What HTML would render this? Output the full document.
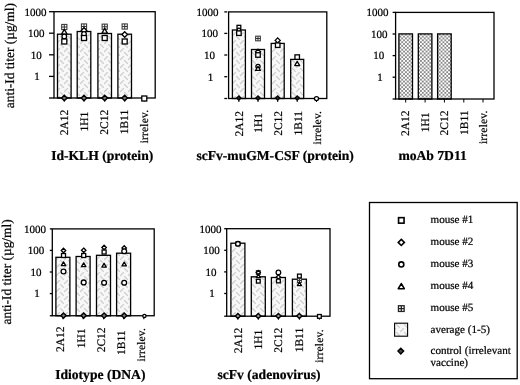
<!DOCTYPE html>
<html><head><meta charset="utf-8"><style>
html,body{margin:0;padding:0;background:#fff;width:520px;height:385px;overflow:hidden;}
svg{display:block;font-family:"Liberation Serif", serif;filter:grayscale(1);text-rendering:geometricPrecision;}
text{stroke:#000;stroke-width:0.22px;}
</style></head><body>
<svg width="520" height="385" viewBox="0 0 520 385" font-family='"Liberation Serif", serif' fill="#000">
<defs>
<pattern id="hatch" patternUnits="userSpaceOnUse" width="8" height="8">
<rect width="8" height="8" fill="#f7f7f7"/>
<path d="M0.5,3.5 L3.5,0.5 M4.5,4.5 L7.5,7.5" stroke="#cfcfcf" stroke-width="1.3" fill="none" stroke-linecap="round"/>
</pattern>
<pattern id="dots" patternUnits="userSpaceOnUse" width="3.75" height="3.75">
<rect width="3.75" height="3.75" fill="#fff"/>
<rect x="0" y="0" width="1.875" height="1.875" fill="#8c8c8c"/>
<rect x="1.875" y="1.875" width="1.875" height="1.875" fill="#8c8c8c"/>
</pattern>
</defs>
<rect width="520" height="385" fill="#fff"/>
<rect x="57.50" y="34.20" width="13.60" height="63.80" fill="url(#hatch)" stroke="#000" stroke-width="1.3"/>
<rect x="77.20" y="31.50" width="13.60" height="66.50" fill="url(#hatch)" stroke="#000" stroke-width="1.3"/>
<rect x="97.90" y="33.50" width="13.60" height="64.50" fill="url(#hatch)" stroke="#000" stroke-width="1.3"/>
<rect x="117.90" y="34.20" width="13.60" height="63.80" fill="url(#hatch)" stroke="#000" stroke-width="1.3"/>
<rect x="54" y="11.7" width="101.19999999999999" height="86.3" fill="none" stroke="#000" stroke-width="1.3"/>
<line x1="49" y1="11.7" x2="54" y2="11.7" stroke="#000" stroke-width="1.3"/>
<line x1="49" y1="33.2" x2="54" y2="33.2" stroke="#000" stroke-width="1.3"/>
<line x1="49" y1="54.8" x2="54" y2="54.8" stroke="#000" stroke-width="1.3"/>
<line x1="49" y1="76.4" x2="54" y2="76.4" stroke="#000" stroke-width="1.3"/>
<line x1="49" y1="98" x2="54" y2="98" stroke="#000" stroke-width="1.3"/>
<line x1="64.3" y1="98" x2="64.3" y2="101.5" stroke="#000" stroke-width="1"/>
<line x1="84" y1="98" x2="84" y2="101.5" stroke="#000" stroke-width="1"/>
<line x1="104.7" y1="98" x2="104.7" y2="101.5" stroke="#000" stroke-width="1"/>
<line x1="124.7" y1="98" x2="124.7" y2="101.5" stroke="#000" stroke-width="1"/>
<line x1="144.3" y1="98" x2="144.3" y2="101.5" stroke="#000" stroke-width="1"/>
<text x="35.45" y="15.50" text-anchor="middle" font-size="11.0">1000</text>
<text x="36.30" y="37.00" text-anchor="middle" font-size="11.0">100</text>
<text x="36.30" y="58.60" text-anchor="middle" font-size="11.0">10</text>
<text x="37.05" y="80.20" text-anchor="middle" font-size="11.0">1</text>
<g stroke="#333" stroke-width="1.04" fill="#fff"><rect x="61.70" y="24.40" width="5.20" height="5.20"/><path d="M61.70,27.00 H66.90 M64.30,24.40 V29.60"/></g>
<path d="M64.30,29.40 L67.03,34.08 L61.57,34.08 Z" fill="#fff" stroke="#000" stroke-width="1.3" stroke-linejoin="round"/>
<circle cx="64.30" cy="36.50" r="2.30" fill="#fff" stroke="#000" stroke-width="1.3"/>
<rect x="61.80" y="39.00" width="5.00" height="5.00" fill="#fff" stroke="#000" stroke-width="1.3"/>
<g stroke="#333" stroke-width="1.04" fill="#fff"><rect x="81.40" y="23.90" width="5.20" height="5.20"/><path d="M81.40,26.50 H86.60 M84.00,23.90 V29.10"/></g>
<path d="M84.00,27.70 L86.80,30.50 L84.00,33.30 L81.20,30.50 Z" fill="#fff" stroke="#000" stroke-width="1.3"/>
<circle cx="84.00" cy="34.00" r="2.30" fill="#fff" stroke="#000" stroke-width="1.3"/>
<rect x="81.50" y="35.50" width="5.00" height="5.00" fill="#fff" stroke="#000" stroke-width="1.3"/>
<g stroke="#333" stroke-width="1.04" fill="#fff"><rect x="102.10" y="24.10" width="5.20" height="5.20"/><path d="M102.10,26.70 H107.30 M104.70,24.10 V29.30"/></g>
<path d="M104.70,28.40 L107.43,33.08 L101.97,33.08 Z" fill="#fff" stroke="#000" stroke-width="1.3" stroke-linejoin="round"/>
<rect x="102.20" y="35.50" width="5.00" height="5.00" fill="#fff" stroke="#000" stroke-width="1.3"/>
<g stroke="#333" stroke-width="1.04" fill="#fff"><rect x="122.10" y="23.90" width="5.20" height="5.20"/><path d="M122.10,26.50 H127.30 M124.70,23.90 V29.10"/></g>
<path d="M124.70,31.70 L127.50,34.50 L124.70,37.30 L121.90,34.50 Z" fill="#fff" stroke="#000" stroke-width="1.3"/>
<rect x="122.20" y="39.00" width="5.00" height="5.00" fill="#fff" stroke="#000" stroke-width="1.3"/>
<path d="M64.30,95.25 L67.05,98.00 L64.30,100.75 L61.54,98.00 Z" fill="#777" stroke="#000" stroke-width="1.4"/>
<path d="M84.00,95.25 L86.75,98.00 L84.00,100.75 L81.25,98.00 Z" fill="#777" stroke="#000" stroke-width="1.4"/>
<path d="M104.70,95.25 L107.45,98.00 L104.70,100.75 L101.95,98.00 Z" fill="#777" stroke="#000" stroke-width="1.4"/>
<path d="M124.70,95.25 L127.45,98.00 L124.70,100.75 L121.95,98.00 Z" fill="#777" stroke="#000" stroke-width="1.4"/>
<rect x="141.80" y="96.00" width="5.00" height="5.00" fill="#fff" stroke="#000" stroke-width="1.3"/>
<text transform="translate(67.80,109.80) rotate(-90)" text-anchor="end" font-size="11.5">2A12</text>
<text transform="translate(87.50,111.80) rotate(-90)" text-anchor="end" font-size="11.5">1H1</text>
<text transform="translate(108.20,109.80) rotate(-90)" text-anchor="end" font-size="11.5">2C12</text>
<text transform="translate(128.20,109.80) rotate(-90)" text-anchor="end" font-size="11.5">1B11</text>
<text transform="translate(147.80,109.80) rotate(-90)" text-anchor="end" font-size="11.5" letter-spacing="0.17">irrelev.</text>
<text x="102.2" y="160.1" text-anchor="middle" font-size="13.6" font-weight="bold">Id-KLH (protein)</text>
<text transform="translate(14.4,55.65) rotate(-90)" text-anchor="middle" font-size="13.4">anti-Id titer (µg/ml)</text>
<rect x="232.40" y="30.00" width="13.00" height="68.50" fill="url(#hatch)" stroke="#000" stroke-width="1.3"/>
<rect x="251.50" y="49.50" width="13.00" height="49.00" fill="url(#hatch)" stroke="#000" stroke-width="1.3"/>
<rect x="271.20" y="43.40" width="13.00" height="55.10" fill="url(#hatch)" stroke="#000" stroke-width="1.3"/>
<rect x="290.70" y="59.40" width="13.00" height="39.10" fill="url(#hatch)" stroke="#000" stroke-width="1.3"/>
<rect x="228.6" y="11.9" width="98.20000000000002" height="86.6" fill="none" stroke="#000" stroke-width="1.3"/>
<line x1="224.29999999999998" y1="11.9" x2="227.2" y2="11.9" stroke="#000" stroke-width="1.3"/>
<line x1="224.29999999999998" y1="33.4" x2="227.2" y2="33.4" stroke="#000" stroke-width="1.3"/>
<line x1="224.29999999999998" y1="55" x2="227.2" y2="55" stroke="#000" stroke-width="1.3"/>
<line x1="224.29999999999998" y1="76.7" x2="227.2" y2="76.7" stroke="#000" stroke-width="1.3"/>
<line x1="224.29999999999998" y1="98.5" x2="227.2" y2="98.5" stroke="#000" stroke-width="1.3"/>
<line x1="238.9" y1="98.5" x2="238.9" y2="102.0" stroke="#000" stroke-width="1"/>
<line x1="258" y1="98.5" x2="258" y2="102.0" stroke="#000" stroke-width="1"/>
<line x1="277.7" y1="98.5" x2="277.7" y2="102.0" stroke="#000" stroke-width="1"/>
<line x1="297.2" y1="98.5" x2="297.2" y2="102.0" stroke="#000" stroke-width="1"/>
<line x1="316.5" y1="98.5" x2="316.5" y2="102.0" stroke="#000" stroke-width="1"/>
<text x="207.50" y="15.70" text-anchor="middle" font-size="11.0">1000</text>
<text x="209.70" y="37.20" text-anchor="middle" font-size="11.0">100</text>
<text x="209.60" y="58.80" text-anchor="middle" font-size="11.0">10</text>
<text x="210.40" y="80.50" text-anchor="middle" font-size="11.0">1</text>
<rect x="237.03" y="25.32" width="3.75" height="3.75" fill="#fff" stroke="#000" stroke-width="1.3"/>
<circle cx="238.90" cy="29.80" r="1.61" fill="#fff" stroke="#000" stroke-width="1.3"/>
<rect x="236.65" y="30.95" width="4.50" height="4.50" fill="#fff" stroke="#000" stroke-width="1.3"/>
<g stroke="#333" stroke-width="1.04" fill="#fff"><rect x="255.66" y="36.16" width="4.68" height="4.68"/><path d="M255.66,38.50 H260.34 M258.00,36.16 V40.84"/></g>
<path d="M258.00,49.28 L260.52,51.80 L258.00,54.32 L255.48,51.80 Z" fill="#fff" stroke="#000" stroke-width="1.3"/>
<rect x="255.75" y="52.75" width="4.50" height="4.50" fill="#fff" stroke="#000" stroke-width="1.3"/>
<circle cx="258.00" cy="66.40" r="2.07" fill="#fff" stroke="#000" stroke-width="1.3"/>
<path d="M258.00,66.26 L260.46,70.47 L255.54,70.47 Z" fill="#fff" stroke="#000" stroke-width="1.3" stroke-linejoin="round"/>
<path d="M277.70,37.88 L280.22,40.40 L277.70,42.92 L275.18,40.40 Z" fill="#fff" stroke="#000" stroke-width="1.3"/>
<rect x="275.45" y="42.95" width="4.50" height="4.50" fill="#fff" stroke="#000" stroke-width="1.3"/>
<rect x="294.95" y="54.85" width="4.50" height="4.50" fill="#fff" stroke="#000" stroke-width="1.3"/>
<path d="M297.20,61.36 L299.66,65.57 L294.74,65.57 Z" fill="#fff" stroke="#000" stroke-width="1.3" stroke-linejoin="round"/>
<path d="M238.90,95.91 L240.99,98.00 L238.90,100.09 L236.81,98.00 Z" fill="#333" stroke="#000" stroke-width="1.4"/>
<path d="M258.00,95.91 L260.09,98.00 L258.00,100.09 L255.91,98.00 Z" fill="#333" stroke="#000" stroke-width="1.4"/>
<path d="M277.70,95.91 L279.79,98.00 L277.70,100.09 L275.61,98.00 Z" fill="#333" stroke="#000" stroke-width="1.4"/>
<path d="M297.20,95.91 L299.29,98.00 L297.20,100.09 L295.11,98.00 Z" fill="#333" stroke="#000" stroke-width="1.4"/>
<circle cx="316.50" cy="98.60" r="2.07" fill="#fff" stroke="#000" stroke-width="1.3"/>
<text transform="translate(243.20,110.90) rotate(-90)" text-anchor="end" font-size="11.5">2A12</text>
<text transform="translate(262.30,112.90) rotate(-90)" text-anchor="end" font-size="11.5">1H1</text>
<text transform="translate(282.00,110.90) rotate(-90)" text-anchor="end" font-size="11.5">2C12</text>
<text transform="translate(301.50,110.90) rotate(-90)" text-anchor="end" font-size="11.5">1B11</text>
<text transform="translate(320.80,110.90) rotate(-90)" text-anchor="end" font-size="11.5" letter-spacing="0.17">irrelev.</text>
<text x="275.1" y="159.8" text-anchor="middle" font-size="13.6" font-weight="bold">scFv-muGM-CSF (protein)</text>
<rect x="398.90" y="33.90" width="13.60" height="65.10" fill="url(#dots)" stroke="#000" stroke-width="1.3"/>
<rect x="418.30" y="33.90" width="13.60" height="65.10" fill="url(#dots)" stroke="#000" stroke-width="1.3"/>
<rect x="437.60" y="33.90" width="13.60" height="65.10" fill="url(#dots)" stroke="#000" stroke-width="1.3"/>
<rect x="395.6" y="12.4" width="98.39999999999998" height="86.6" fill="none" stroke="#000" stroke-width="1.3"/>
<line x1="392.6" y1="12.4" x2="395.6" y2="12.4" stroke="#000" stroke-width="1.3"/>
<line x1="392.6" y1="34.0" x2="395.6" y2="34.0" stroke="#000" stroke-width="1.3"/>
<line x1="392.6" y1="55.6" x2="395.6" y2="55.6" stroke="#000" stroke-width="1.3"/>
<line x1="392.6" y1="77.2" x2="395.6" y2="77.2" stroke="#000" stroke-width="1.3"/>
<line x1="392.6" y1="99.0" x2="395.6" y2="99.0" stroke="#000" stroke-width="1.3"/>
<line x1="405.7" y1="99.0" x2="405.7" y2="102.5" stroke="#000" stroke-width="1"/>
<line x1="425.1" y1="99.0" x2="425.1" y2="102.5" stroke="#000" stroke-width="1"/>
<line x1="444.4" y1="99.0" x2="444.4" y2="102.5" stroke="#000" stroke-width="1"/>
<line x1="463.8" y1="99.0" x2="463.8" y2="102.5" stroke="#000" stroke-width="1"/>
<line x1="483" y1="99.0" x2="483" y2="102.5" stroke="#000" stroke-width="1"/>
<text x="377.50" y="16.20" text-anchor="middle" font-size="11.0">1000</text>
<text x="379.30" y="37.80" text-anchor="middle" font-size="11.0">100</text>
<text x="378.80" y="59.40" text-anchor="middle" font-size="11.0">10</text>
<text x="379.90" y="81.00" text-anchor="middle" font-size="11.0">1</text>
<text transform="translate(409.40,110.50) rotate(-90)" text-anchor="end" font-size="11.5">2A12</text>
<text transform="translate(428.80,112.50) rotate(-90)" text-anchor="end" font-size="11.5">1H1</text>
<text transform="translate(448.10,110.50) rotate(-90)" text-anchor="end" font-size="11.5">2C12</text>
<text transform="translate(467.50,110.50) rotate(-90)" text-anchor="end" font-size="11.5">1B11</text>
<text transform="translate(486.70,110.50) rotate(-90)" text-anchor="end" font-size="11.5" letter-spacing="0.17">irrelev.</text>
<text x="432.6" y="159.6" text-anchor="middle" font-size="13.6" font-weight="bold">moAb 7D11</text>
<rect x="55.90" y="257.30" width="14.00" height="58.45" fill="url(#hatch)" stroke="#000" stroke-width="1.3"/>
<rect x="76.10" y="256.50" width="14.00" height="59.25" fill="url(#hatch)" stroke="#000" stroke-width="1.3"/>
<rect x="96.50" y="255.30" width="14.00" height="60.45" fill="url(#hatch)" stroke="#000" stroke-width="1.3"/>
<rect x="116.60" y="253.20" width="14.00" height="62.55" fill="url(#hatch)" stroke="#000" stroke-width="1.3"/>
<rect x="52.3" y="228.9" width="101.89999999999999" height="86.85" fill="none" stroke="#000" stroke-width="1.3"/>
<line x1="49.8" y1="228.9" x2="52.3" y2="228.9" stroke="#000" stroke-width="1.3"/>
<line x1="49.8" y1="250.4" x2="52.3" y2="250.4" stroke="#000" stroke-width="1.3"/>
<line x1="49.8" y1="272.0" x2="52.3" y2="272.0" stroke="#000" stroke-width="1.3"/>
<line x1="49.8" y1="293.6" x2="52.3" y2="293.6" stroke="#000" stroke-width="1.3"/>
<line x1="49.8" y1="315.75" x2="52.3" y2="315.75" stroke="#000" stroke-width="1.3"/>
<line x1="62.9" y1="315.75" x2="62.9" y2="319.25" stroke="#000" stroke-width="1"/>
<line x1="83.1" y1="315.75" x2="83.1" y2="319.25" stroke="#000" stroke-width="1"/>
<line x1="103.5" y1="315.75" x2="103.5" y2="319.25" stroke="#000" stroke-width="1"/>
<line x1="123.6" y1="315.75" x2="123.6" y2="319.25" stroke="#000" stroke-width="1"/>
<line x1="143.8" y1="315.75" x2="143.8" y2="319.25" stroke="#000" stroke-width="1"/>
<text x="34.90" y="232.70" text-anchor="middle" font-size="11.0">1000</text>
<text x="36.00" y="254.20" text-anchor="middle" font-size="11.0">100</text>
<text x="36.00" y="275.80" text-anchor="middle" font-size="11.0">10</text>
<text x="37.10" y="297.40" text-anchor="middle" font-size="11.0">1</text>
<path d="M63.50,248.26 L65.74,250.50 L63.50,252.74 L61.26,250.50 Z" fill="#fff" stroke="#000" stroke-width="1.3"/>
<rect x="61.50" y="253.50" width="4.00" height="4.00" fill="#fff" stroke="#000" stroke-width="1.3"/>
<path d="M63.50,261.92 L65.68,265.66 L61.32,265.66 Z" fill="#fff" stroke="#000" stroke-width="1.3" stroke-linejoin="round"/>
<circle cx="63.50" cy="271.50" r="2.42" fill="#fff" stroke="#000" stroke-width="1.3"/>
<path d="M83.70,248.06 L85.94,250.30 L83.70,252.54 L81.46,250.30 Z" fill="#fff" stroke="#000" stroke-width="1.3"/>
<rect x="81.70" y="253.50" width="4.00" height="4.00" fill="#fff" stroke="#000" stroke-width="1.3"/>
<path d="M83.70,262.92 L85.88,266.66 L81.52,266.66 Z" fill="#fff" stroke="#000" stroke-width="1.3" stroke-linejoin="round"/>
<circle cx="83.70" cy="282.40" r="2.42" fill="#fff" stroke="#000" stroke-width="1.3"/>
<path d="M104.10,245.26 L106.34,247.50 L104.10,249.74 L101.86,247.50 Z" fill="#fff" stroke="#000" stroke-width="1.3"/>
<rect x="102.10" y="250.00" width="4.00" height="4.00" fill="#fff" stroke="#000" stroke-width="1.3"/>
<path d="M104.10,263.42 L106.28,267.16 L101.92,267.16 Z" fill="#fff" stroke="#000" stroke-width="1.3" stroke-linejoin="round"/>
<circle cx="104.10" cy="282.70" r="2.42" fill="#fff" stroke="#000" stroke-width="1.3"/>
<path d="M124.20,245.76 L126.44,248.00 L124.20,250.24 L121.96,248.00 Z" fill="#fff" stroke="#000" stroke-width="1.3"/>
<circle cx="124.20" cy="251.30" r="2.42" fill="#fff" stroke="#000" stroke-width="1.3"/>
<path d="M124.20,262.12 L126.38,265.86 L122.02,265.86 Z" fill="#fff" stroke="#000" stroke-width="1.3" stroke-linejoin="round"/>
<circle cx="124.20" cy="282.70" r="2.42" fill="#fff" stroke="#000" stroke-width="1.3"/>
<path d="M63.50,312.93 L66.17,315.60 L63.50,318.27 L60.83,315.60 Z" fill="#777" stroke="#000" stroke-width="1.4"/>
<path d="M83.70,312.93 L86.37,315.60 L83.70,318.27 L81.03,315.60 Z" fill="#777" stroke="#000" stroke-width="1.4"/>
<path d="M104.10,312.93 L106.77,315.60 L104.10,318.27 L101.43,315.60 Z" fill="#777" stroke="#000" stroke-width="1.4"/>
<path d="M124.20,312.93 L126.87,315.60 L124.20,318.27 L121.53,315.60 Z" fill="#777" stroke="#000" stroke-width="1.4"/>
<circle cx="144.40" cy="315.90" r="1.61" fill="#fff" stroke="#000" stroke-width="1.3"/>
<text transform="translate(64.40,326.45) rotate(-90)" text-anchor="end" font-size="11.5">2A12</text>
<text transform="translate(84.60,328.45) rotate(-90)" text-anchor="end" font-size="11.5">1H1</text>
<text transform="translate(105.00,327.45) rotate(-90)" text-anchor="end" font-size="11.5">2C12</text>
<text transform="translate(125.10,330.45) rotate(-90)" text-anchor="end" font-size="11.5">1B11</text>
<text transform="translate(145.30,327.95) rotate(-90)" text-anchor="end" font-size="11.5" letter-spacing="0.17">irrelev.</text>
<text x="100.3" y="379.0" text-anchor="middle" font-size="13.6" font-weight="bold">Idiotype (DNA)</text>
<text transform="translate(11.0,271.93) rotate(-90)" text-anchor="middle" font-size="13.4">anti-Id titer (µg/ml)</text>
<rect x="230.90" y="243.20" width="14.00" height="73.00" fill="url(#hatch)" stroke="#000" stroke-width="1.3"/>
<rect x="251.30" y="276.80" width="14.00" height="39.40" fill="url(#hatch)" stroke="#000" stroke-width="1.3"/>
<rect x="271.40" y="277.50" width="14.00" height="38.70" fill="url(#hatch)" stroke="#000" stroke-width="1.3"/>
<rect x="292.40" y="279.20" width="14.00" height="37.00" fill="url(#hatch)" stroke="#000" stroke-width="1.3"/>
<rect x="226.7" y="228.7" width="103.30000000000001" height="87.5" fill="none" stroke="#000" stroke-width="1.3"/>
<line x1="224.2" y1="228.7" x2="226.7" y2="228.7" stroke="#000" stroke-width="1.3"/>
<line x1="224.2" y1="250.3" x2="226.7" y2="250.3" stroke="#000" stroke-width="1.3"/>
<line x1="224.2" y1="271.9" x2="226.7" y2="271.9" stroke="#000" stroke-width="1.3"/>
<line x1="224.2" y1="293.5" x2="226.7" y2="293.5" stroke="#000" stroke-width="1.3"/>
<line x1="224.2" y1="316.2" x2="226.7" y2="316.2" stroke="#000" stroke-width="1.3"/>
<line x1="237.9" y1="316.2" x2="237.9" y2="319.7" stroke="#000" stroke-width="1"/>
<line x1="258.3" y1="316.2" x2="258.3" y2="319.7" stroke="#000" stroke-width="1"/>
<line x1="278.4" y1="316.2" x2="278.4" y2="319.7" stroke="#000" stroke-width="1"/>
<line x1="299.4" y1="316.2" x2="299.4" y2="319.7" stroke="#000" stroke-width="1"/>
<line x1="319.4" y1="316.2" x2="319.4" y2="319.7" stroke="#000" stroke-width="1"/>
<text x="210.40" y="232.50" text-anchor="middle" font-size="11.0">1000</text>
<text x="211.50" y="254.10" text-anchor="middle" font-size="11.0">100</text>
<text x="211.00" y="275.70" text-anchor="middle" font-size="11.0">10</text>
<text x="212.10" y="297.30" text-anchor="middle" font-size="11.0">1</text>
<rect x="236.03" y="241.93" width="3.75" height="3.75" fill="#fff" stroke="#000" stroke-width="1.3"/>
<circle cx="237.90" cy="243.80" r="2.30" fill="#fff" stroke="#000" stroke-width="1.3"/>
<g stroke="#333" stroke-width="1.04" fill="#fff"><rect x="256.35" y="270.55" width="3.90" height="3.90"/><path d="M256.35,272.50 H260.25 M258.30,270.55 V274.45"/></g>
<path d="M258.30,270.40 L260.40,272.50 L258.30,274.60 L256.20,272.50 Z" fill="#fff" stroke="#000" stroke-width="1.3"/>
<path d="M258.30,274.05 L260.35,277.56 L256.25,277.56 Z" fill="#fff" stroke="#000" stroke-width="1.3" stroke-linejoin="round"/>
<rect x="256.43" y="279.32" width="3.75" height="3.75" fill="#fff" stroke="#000" stroke-width="1.3"/>
<circle cx="278.40" cy="272.50" r="2.30" fill="#fff" stroke="#000" stroke-width="1.3"/>
<path d="M278.40,274.90 L280.50,277.00 L278.40,279.10 L276.30,277.00 Z" fill="#fff" stroke="#000" stroke-width="1.3"/>
<rect x="276.52" y="279.12" width="3.75" height="3.75" fill="#fff" stroke="#000" stroke-width="1.3"/>
<rect x="297.52" y="274.12" width="3.75" height="3.75" fill="#fff" stroke="#000" stroke-width="1.3"/>
<g stroke="#333" stroke-width="1.04" fill="#fff"><rect x="297.45" y="278.55" width="3.90" height="3.90"/><path d="M297.45,280.50 H301.35 M299.40,278.55 V282.45"/></g>
<path d="M299.40,282.05 L301.45,285.56 L297.35,285.56 Z" fill="#fff" stroke="#000" stroke-width="1.3" stroke-linejoin="round"/>
<path d="M237.90,313.39 L240.51,316.00 L237.90,318.61 L235.29,316.00 Z" fill="#999" stroke="#000" stroke-width="1.4"/>
<path d="M258.30,313.39 L260.91,316.00 L258.30,318.61 L255.69,316.00 Z" fill="#999" stroke="#000" stroke-width="1.4"/>
<path d="M278.40,313.39 L281.01,316.00 L278.40,318.61 L275.79,316.00 Z" fill="#999" stroke="#000" stroke-width="1.4"/>
<path d="M299.40,313.39 L302.01,316.00 L299.40,318.61 L296.79,316.00 Z" fill="#999" stroke="#000" stroke-width="1.4"/>
<rect x="317.52" y="314.52" width="3.75" height="3.75" fill="#fff" stroke="#000" stroke-width="1.3"/>
<text transform="translate(241.70,327.80) rotate(-90)" text-anchor="end" font-size="11.5">2A12</text>
<text transform="translate(262.10,329.80) rotate(-90)" text-anchor="end" font-size="11.5">1H1</text>
<text transform="translate(282.20,327.80) rotate(-90)" text-anchor="end" font-size="11.5">2C12</text>
<text transform="translate(303.20,327.80) rotate(-90)" text-anchor="end" font-size="11.5">1B11</text>
<text transform="translate(323.20,329.30) rotate(-90)" text-anchor="end" font-size="11.5" letter-spacing="0.17">irrelev.</text>
<text x="269" y="379.0" text-anchor="middle" font-size="13.6" font-weight="bold">scFv (adenovirus)</text>
<rect x="369.5" y="202.5" width="147.7" height="176.2" fill="#fff" stroke="#000" stroke-width="1.3"/>
<rect x="398.55" y="217.65" width="5.50" height="5.50" fill="#fff" stroke="#000" stroke-width="1.6"/>
<text x="430.5" y="223" font-size="11.1">mouse #1</text>
<path d="M401.30,239.32 L404.38,242.40 L401.30,245.48 L398.22,242.40 Z" fill="#fff" stroke="#000" stroke-width="1.6"/>
<text x="430.5" y="245" font-size="11.1">mouse #2</text>
<circle cx="401.30" cy="264.40" r="2.53" fill="#fff" stroke="#000" stroke-width="1.6"/>
<text x="430.5" y="267" font-size="11.1">mouse #3</text>
<path d="M401.30,283.54 L404.30,288.69 L398.30,288.69 Z" fill="#fff" stroke="#000" stroke-width="1.6" stroke-linejoin="round"/>
<text x="430.5" y="289.2" font-size="11.1">mouse #4</text>
<g stroke="#222" stroke-width="1.28" fill="#fff"><rect x="398.44" y="305.74" width="5.72" height="5.72"/><path d="M398.44,308.60 H404.16 M401.30,305.74 V311.46"/></g>
<text x="430.5" y="311.2" font-size="11.1">mouse #5</text>
<rect x="394.6" y="323.2" width="13" height="13" fill="url(#hatch)" stroke="#000" stroke-width="1.1"/>
<text x="430.5" y="333" font-size="11.1">average (1-5)</text>
<path d="M400.80,348.26 L403.64,351.10 L400.80,353.94 L397.96,351.10 Z" fill="#444" stroke="#000" stroke-width="1.4"/>
<text x="430.5" y="354.3" font-size="11.1">control (irrelevant</text>
<text x="430.5" y="365.6" font-size="11.1">vaccine)</text>
</svg>
</body></html>
